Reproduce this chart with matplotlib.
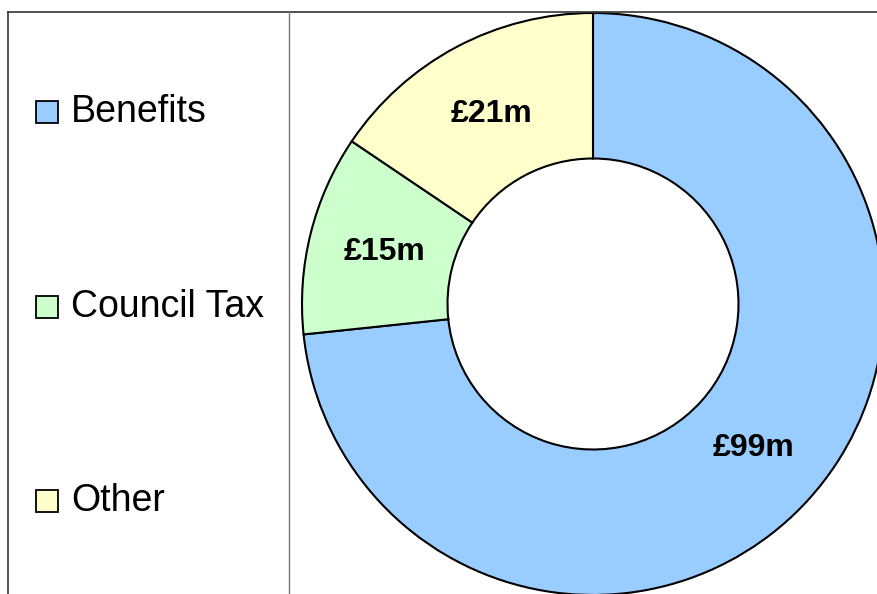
import matplotlib
matplotlib.use("Agg")
import matplotlib.pyplot as plt
from matplotlib.patches import Rectangle
from matplotlib.lines import Line2D

plt.rcParams['font.family'] = ['Liberation Sans', 'DejaVu Sans']

categories = ["Benefits", "Council Tax", "Other"]
values = [99, 15, 21]  # £ millions
colors = ["#99CCFF", "#CCFFCC", "#FFFFCC"]

W, H = 877, 594
fig = plt.figure(figsize=(W / 100, H / 100), dpi=100)
fig.patch.set_facecolor("white")

def fx(px):
    return px / W

def fy(py):
    return 1 - py / H

# Donut axes: centre (593, 304) px, outer radius 291 px
cx, cy, r = 593, 304, 291
ax = fig.add_axes([fx(cx - r), fy(cy + r), 2 * r / W, 2 * r / H])
ax.set_xlim(-1, 1)
ax.set_ylim(-1, 1)
ax.set_aspect("equal")
ax.axis("off")

total = sum(values)
wedges, texts, autotexts = ax.pie(
    values,
    colors=colors,
    startangle=90,
    counterclock=False,
    radius=1.0,
    wedgeprops=dict(width=0.5, edgecolor="black", linewidth=1.5),
    autopct=lambda p: f"£{round(p * total / 100)}m",
    pctdistance=0.74,
    textprops=dict(fontsize=23, fontweight="bold", color="black"),
)
ax.set_xlim(-1, 1)
ax.set_ylim(-1, 1)

# Frame lines around the legend panel
fig.add_artist(Line2D([fx(8), fx(877)], [fy(12), fy(12)], color="#333333", lw=1.2))
fig.add_artist(Line2D([fx(8), fx(8)], [fy(12), fy(594)], color="#333333", lw=1.2))
fig.add_artist(Line2D([fx(289), fx(289)], [fy(12), fy(594)], color="#777777", lw=1.0))

# Legend entries
rows = [112, 307, 501]
for name, col, yc in zip(categories, colors, rows):
    sq = 22
    fig.add_artist(Rectangle((fx(36), fy(yc + sq / 2)), sq / W, sq / H,
                             facecolor=col, edgecolor="black", lw=1.3,
                             transform=fig.transFigure))
    fig.text(fx(71), fy(yc), name, fontsize=27, va="center", ha="left")

fig.savefig("out.png", dpi=100)
